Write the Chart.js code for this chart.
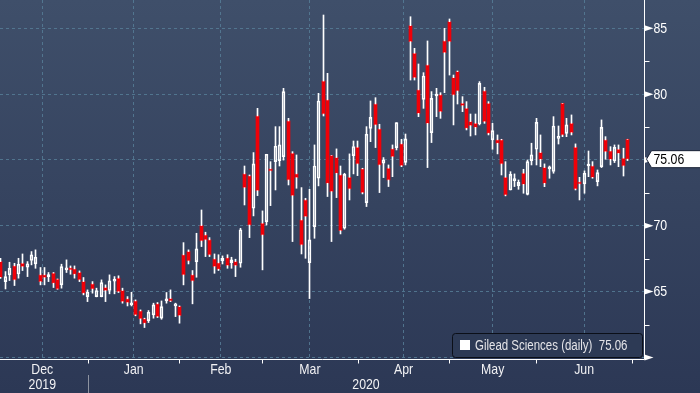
<!DOCTYPE html>
<html>
<head>
<meta charset="utf-8">
<script src="https://cdn.jsdelivr.net/npm/chart.js@4.4.1/dist/chart.umd.min.js"></script>
<style>
  html, body { margin: 0; padding: 0; background: #2d3a56; }
  #wrap { width: 700px; height: 393px; }
</style>
</head>
<body>
<div id="wrap"><canvas id="gildChart" width="700" height="393"></canvas></div>
<script>
// Gilead Sciences daily candles, 3 Dec 2019 .. 30 Jun 2020 (index = trading day)
const opens = [
  67.28, 65.76, 66.27, 66.95, 66.34, 67.15, 66.85, 67.36, 67.10, 66.27,
  66.27, 66.14, 66.40, 65.94, 65.51, 66.65, 66.80, 66.72, 66.45, 65.76,
  64.62, 65.58, 64.62, 64.62, 65.31, 65.08, 65.79, 66.02, 65.08, 64.45,
  63.99, 64.29, 63.53, 62.93, 62.80, 63.23, 64.07, 62.98, 64.29, 64.47,
  63.91, 63.86, 67.79, 68.04, 66.27, 67.28, 70.01, 69.30, 68.93, 67.48,
  67.18, 67.33, 67.56, 67.20, 67.28, 67.15, 73.94, 73.79, 71.33, 78.34,
  70.19, 70.32, 74.32, 74.87, 74.95, 75.25, 77.96, 75.51, 73.94, 70.44,
  71.96, 67.20, 69.94, 73.61, 80.99, 79.56, 75.33, 75.18, 73.86, 69.81,
  73.68, 75.33, 75.96, 74.32, 71.76, 77.40, 79.25, 77.35, 74.75, 74.37,
  75.84, 75.94, 76.22, 74.82, 85.20, 83.10, 80.32, 79.60, 82.21, 77.08,
  79.86, 79.94, 84.04, 85.50, 81.25, 81.71, 79.30, 78.92, 77.91, 77.78,
  77.73, 80.24, 79.30, 76.52, 76.52, 76.52, 73.68, 72.72, 73.43, 73.05,
  73.99, 72.39, 74.95, 75.81, 75.56, 74.42, 74.32, 74.12, 76.64, 79.30,
  77.02, 77.78, 75.96, 73.33, 73.18, 74.54, 74.54, 73.35, 74.49, 76.52,
  75.68, 74.92, 75.81, 75.13, 76.57
];
const highs = [
  67.53, 66.52, 67.23, 67.15, 67.53, 67.86, 67.28, 68.04, 68.17, 66.83,
  66.83, 66.45, 66.45, 65.96, 67.08, 67.41, 66.95, 66.95, 66.57, 66.07,
  65.13, 65.76, 65.26, 65.89, 65.51, 66.27, 66.14, 66.20, 65.26, 64.62,
  64.95, 64.37, 63.61, 62.98, 63.56, 64.12, 64.17, 64.29, 64.93, 65.13,
  64.12, 63.91, 68.72, 68.17, 66.60, 69.43, 71.20, 69.51, 69.10, 67.86,
  67.80, 67.71, 67.80, 67.61, 67.46, 69.81, 74.54, 73.86, 75.56, 78.92,
  71.13, 75.43, 74.87, 77.53, 77.53, 80.44, 78.16, 75.63, 75.38, 72.90,
  72.09, 72.77, 76.14, 80.06, 86.01, 81.58, 75.33, 75.84, 74.54, 73.99,
  75.46, 76.44, 76.44, 74.37, 77.53, 79.48, 79.73, 77.71, 75.18, 74.62,
  76.14, 77.83, 76.57, 76.97, 85.88, 83.48, 82.29, 81.63, 84.04, 80.19,
  80.44, 80.11, 85.00, 85.71, 81.45, 81.76, 79.81, 79.43, 78.49, 78.49,
  80.95, 80.52, 79.43, 77.78, 76.90, 76.57, 74.87, 74.11, 73.94, 73.48,
  74.29, 75.00, 76.27, 78.16, 76.90, 74.70, 74.54, 78.29, 77.58, 79.30,
  78.16, 78.42, 76.22, 73.68, 74.17, 75.68, 74.87, 74.24, 78.04, 76.77,
  76.01, 76.14, 76.14, 75.89, 76.57
];
const lows = [
  66.00, 65.20, 65.84, 65.46, 66.02, 66.60, 66.14, 67.03, 66.77, 65.51,
  65.51, 65.76, 65.31, 65.18, 65.26, 66.45, 66.32, 66.02, 65.76, 64.75,
  64.24, 64.88, 64.60, 64.60, 64.24, 64.83, 64.83, 64.93, 64.12, 63.91,
  63.91, 63.16, 62.55, 62.27, 62.65, 62.98, 63.03, 62.90, 64.12, 64.24,
  63.10, 62.60, 65.51, 67.10, 64.07, 66.09, 68.42, 67.66, 67.66, 66.39,
  66.60, 67.10, 66.77, 66.77, 66.14, 66.85, 71.58, 69.10, 70.75, 72.29,
  66.65, 70.06, 71.53, 72.72, 74.54, 74.99, 73.10, 68.80, 72.85, 67.86,
  67.53, 64.47, 69.05, 73.03, 78.34, 72.22, 68.80, 72.14, 69.38, 69.74,
  71.96, 73.94, 73.81, 72.42, 71.46, 76.39, 75.94, 72.52, 73.66, 72.98,
  73.73, 75.76, 74.49, 74.62, 81.07, 81.07, 78.29, 78.92, 74.42, 76.32,
  78.29, 78.16, 80.11, 81.45, 77.66, 79.25, 78.67, 77.28, 76.82, 76.90,
  77.66, 77.78, 76.90, 75.81, 75.46, 73.86, 72.27, 72.72, 72.98, 72.77,
  72.47, 72.34, 74.62, 74.62, 74.49, 72.97, 73.61, 73.99, 76.21, 76.77,
  76.77, 76.90, 72.72, 71.96, 72.47, 73.73, 73.61, 73.03, 74.42, 75.05,
  74.62, 74.80, 74.49, 73.78, 74.95
];
const closes = [
  66.09, 66.14, 66.77, 65.89, 67.08, 66.90, 67.10, 67.79, 67.61, 65.76,
  66.07, 66.20, 65.64, 65.20, 66.90, 66.80, 66.65, 66.32, 65.89, 64.88,
  64.95, 65.20, 65.08, 65.68, 65.08, 65.81, 65.89, 65.00, 64.24, 64.17,
  64.12, 63.23, 62.93, 62.60, 63.43, 63.99, 63.10, 63.86, 64.42, 64.29,
  64.07, 63.18, 66.27, 67.33, 65.81, 68.24, 68.85, 68.93, 67.79, 66.90,
  66.70, 67.53, 66.98, 67.41, 66.98, 69.70, 72.90, 70.06, 74.70, 72.67,
  69.30, 75.43, 74.17, 76.04, 76.14, 80.19, 73.48, 72.29, 73.66, 68.55,
  70.70, 68.93, 74.54, 79.48, 78.49, 73.23, 72.60, 73.99, 69.63, 73.91,
  72.80, 76.02, 74.70, 72.52, 76.95, 78.24, 77.66, 74.62, 75.00, 73.48,
  75.25, 77.83, 74.57, 76.60, 83.99, 81.25, 78.54, 81.38, 77.78, 79.68,
  79.94, 78.67, 83.15, 83.99, 79.94, 80.24, 79.13, 77.41, 77.61, 77.48,
  80.82, 77.91, 77.03, 77.23, 76.27, 74.70, 72.34, 73.91, 73.53, 73.30,
  73.15, 74.87, 75.38, 77.86, 75.05, 73.23, 74.44, 77.58, 76.77, 76.90,
  77.66, 77.08, 72.80, 73.18, 73.99, 74.62, 73.68, 74.04, 77.48, 75.63,
  75.05, 75.96, 75.50, 74.55, 75.06
];

// first trading day of each month (same index as above), Dec 2 = -1
const monthStarts = [-1, 20, 41, 60, 82, 103, 123, 145];
const monthLabels = ['Dec', 'Jan', 'Feb', 'Mar', 'Apr', 'May', 'Jun'];
const yearLabels = ['2019', '2020'];
const priceTicks = [60, 65, 70, 75, 80, 85];
const seriesName = 'Gilead Sciences (daily)';
const lastPrice = 75.06;

const FONT = '"Liberation Sans", Arial, sans-serif';
const NARROW = 0.82;  // squeeze to look like the terminal's narrow face
const GRID = 'rgba(86, 124, 150, 0.85)';
const RED = 'rgb(240, 0, 8)';

// split every candle into wick pieces and bodies
const upperWicks = [], lowerWicks = [], upBodies = [], downBodies = [];
opens.forEach((o, i) => {
    const c = closes[i];
    const top = Math.max(o, c), bot = Math.min(o, c);
    upperWicks.push({ x: i, y: [top, highs[i]] });
    lowerWicks.push({ x: i, y: [lows[i], bot] });
    if (c >= o) upBodies.push({ x: i, y: [bot, top] });
    else downBodies.push({ x: i, y: [bot, top] });
});

function narrowText(ctx, text, x, y, align) {
    ctx.save();
    ctx.translate(x, y);
    ctx.scale(NARROW, 1);
    ctx.textAlign = align;
    ctx.textBaseline = 'middle';
    ctx.fillText(text, 0, 0);
    ctx.restore();
}

const backdrop = {
    id: 'backdrop',
    beforeDraw(chart) {
        const ctx = chart.ctx;
        const g = ctx.createLinearGradient(0, 0, 0, chart.height);
        g.addColorStop(0, '#3f4f6a');
        g.addColorStop(1, '#2c3855');
        ctx.save();
        ctx.fillStyle = g;
        ctx.fillRect(0, 0, chart.width, chart.height);
        ctx.restore();
    }
};

// snap candle centres onto half pixels so wicks stay crisp
const snapCandles = {
    id: 'snapCandles',
    beforeDatasetsDraw(chart) {
        chart.data.datasets.forEach((ds, i) => {
            chart.getDatasetMeta(i).data.forEach(el => {
                el.x = Math.floor(el.x) + 0.5;
            });
        });
    }
};

const decorations = {
    id: 'decorations',
    afterDraw(chart) {
        const ctx = chart.ctx;
        const area = chart.chartArea;
        const xs = chart.scales.x, ys = chart.scales.y;
        const right = Math.round(area.right) + 0.5;
        const bottom = Math.round(area.bottom) + 0.5;
        ctx.save();

        // axis lines
        ctx.strokeStyle = '#ffffff';
        ctx.lineWidth = 1;
        ctx.beginPath();
        ctx.moveTo(0, bottom); ctx.lineTo(right, bottom);
        ctx.moveTo(right, 0); ctx.lineTo(right, bottom);
        ctx.stroke();

        // month ticks + labels
        ctx.fillStyle = '#f2f2f4';
        ctx.font = '15px ' + FONT;
        ctx.beginPath();
        monthStarts.forEach(m => {
            const px = Math.round(xs.getPixelForValue(m)) + 0.5;
            if (px > 0 && px < area.right) {
                ctx.moveTo(px, bottom); ctx.lineTo(px, bottom + 4);
            }
        });
        ctx.stroke();
        monthLabels.forEach((lab, k) => {
            const a = xs.getPixelForValue(monthStarts[k]);
            const b = xs.getPixelForValue(monthStarts[k + 1]);
            narrowText(ctx, lab, (a + b) / 2, 370, 'center');
        });
        const sep = xs.getPixelForValue(monthStarts[1]);
        narrowText(ctx, yearLabels[0], (xs.getPixelForValue(monthStarts[0]) + sep) / 2, 385, 'center');
        narrowText(ctx, yearLabels[1], (sep + area.right) / 2, 385, 'center');
        ctx.strokeStyle = '#8d93a0';
        ctx.beginPath();
        ctx.moveTo(Math.round(sep) + 0.5, 375); ctx.lineTo(Math.round(sep) + 0.5, 393);
        ctx.stroke();

        // right axis: minor ticks, arrows, labels
        ctx.strokeStyle = '#ffffff';
        ctx.fillStyle = '#ffffff';
        for (let v = 60; v <= 85; v += 2.5) {
            const py = ys.getPixelForValue(v);
            if (v % 5 === 0) {
                ctx.beginPath();
                ctx.moveTo(right, py - 3);
                ctx.lineTo(right + 9, py);
                ctx.lineTo(right, py + 3);
                ctx.closePath();
                ctx.fill();
                if (v > 60) narrowText(ctx, String(v), right + 9, py + 0.5, 'left');
            } else {
                ctx.beginPath();
                ctx.moveTo(right, Math.round(py) + 0.5);
                ctx.lineTo(right + 5, Math.round(py) + 0.5);
                ctx.stroke();
            }
        }

        // last price tag
        const ty = ys.getPixelForValue(lastPrice);
        ctx.beginPath();
        ctx.moveTo(right + 2, ty);
        ctx.lineTo(right + 7, ty - 8.5);
        ctx.lineTo(chart.width + 2, ty - 8.5);
        ctx.lineTo(chart.width + 2, ty + 8.5);
        ctx.lineTo(right + 7, ty + 8.5);
        ctx.closePath();
        ctx.fillStyle = '#ffffff';
        ctx.fill();
        ctx.strokeStyle = '#1a2236';
        ctx.stroke();
        ctx.fillStyle = '#000000';
        narrowText(ctx, lastPrice.toFixed(2), right + 9, ty + 0.5, 'left');

        // legend box
        const lx = 452.5, ly = 333.5, lw = 190, lh = 24;
        ctx.beginPath();
        ctx.roundRect(lx, ly, lw, lh, 3);
        ctx.fillStyle = '#2d3a55';
        ctx.fill();
        ctx.strokeStyle = '#0b0f18';
        ctx.stroke();
        ctx.fillStyle = '#ffffff';
        ctx.fillRect(460, 340, 10, 10);
        ctx.fillStyle = '#e4e4e8';
        ctx.font = '14px ' + FONT;
        narrowText(ctx, seriesName + '  ' + lastPrice.toFixed(2), 475, 346, 'left');

        ctx.restore();
    }
};

const barBase = { grouped: false, borderSkipped: false };

new Chart(document.getElementById('gildChart'), {
    type: 'bar',
    data: {
        datasets: [
            Object.assign({ data: upperWicks, backgroundColor: '#ffffff', barThickness: 1, borderWidth: 0 }, barBase),
            Object.assign({ data: lowerWicks, backgroundColor: '#ffffff', barThickness: 1, borderWidth: 0 }, barBase),
            Object.assign({ data: upBodies, backgroundColor: 'rgba(0,0,0,0)', borderColor: '#ffffff',
                borderWidth: 1, barThickness: 3, minBarLength: 2 }, barBase),
            Object.assign({ data: downBodies, backgroundColor: RED, borderWidth: 0,
                barThickness: 3, minBarLength: 2 }, barBase)
        ]
    },
    options: {
        responsive: false,
        devicePixelRatio: 1,
        animation: false,
        layout: { padding: 0 },
        plugins: { legend: { display: false }, tooltip: { enabled: false } },
        scales: {
            x: {
                type: 'linear',
                min: -0.22,
                max: 147.76,
                offset: false,
                afterBuildTicks: s => { s.ticks = monthStarts.slice(1).map(v => ({ value: v })); },
                afterFit: s => { s.height = 34; },
                ticks: { display: false },
                grid: { color: GRID, drawTicks: false },
                border: { display: false, dash: [3, 3] }
            },
            y: {
                position: 'right',
                min: 59.88,
                max: 87.15,
                afterBuildTicks: s => { s.ticks = priceTicks.map(v => ({ value: v })); },
                afterFit: s => { s.width = 56; },
                ticks: { display: false },
                grid: { color: GRID, drawTicks: false },
                border: { display: false, dash: [3, 3] }
            }
        }
    },
    plugins: [backdrop, snapCandles, decorations]
});
</script>
</body>
</html>
